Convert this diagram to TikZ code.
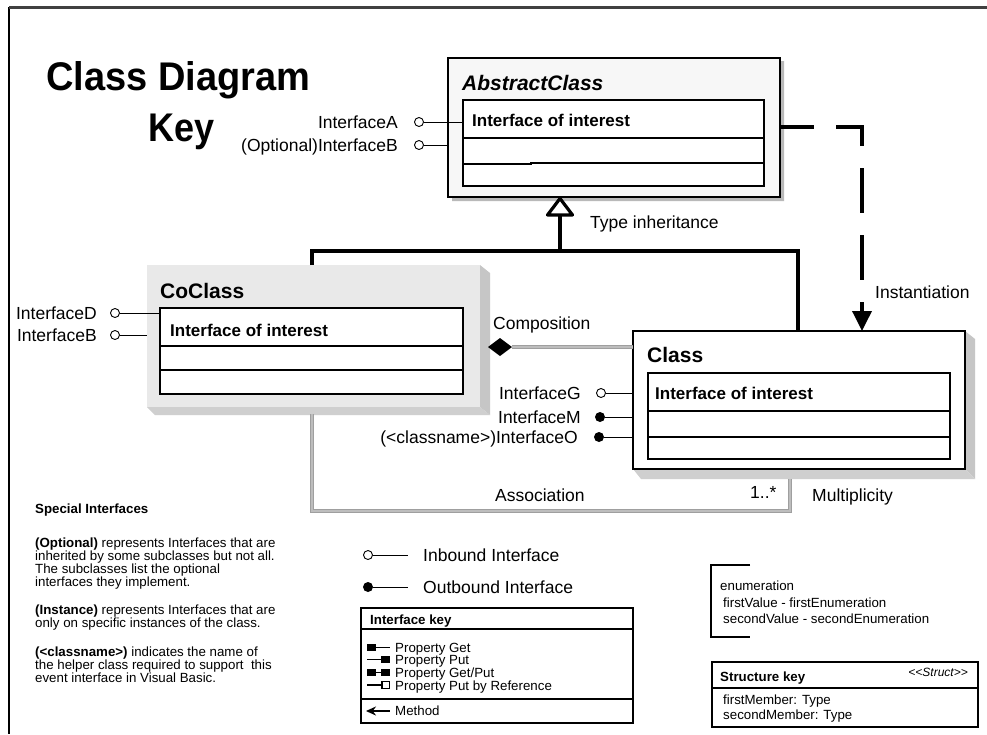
\documentclass[tikz,border=0pt]{standalone}
\usepackage{fontspec}
\setmainfont{Liberation Sans}
\usetikzlibrary{arrows.meta}
\begin{document}
\begin{tikzpicture}[x=1pt,y=-1pt,
  box/.style={draw=black, line width=1.1pt, inner sep=0pt, outer sep=0pt, anchor=north west},
  inbox/.style={box, fill=white},
  rowline/.style={line width=1.1pt},
  lbl/.style={font=\fontsize{17.5}{20}\selectfont, inner sep=0pt},
  small/.style={font=\fontsize{13.3}{13}\selectfont, inner sep=0pt, align=left},
  smallb/.style={font=\fontsize{13.3}{13}\selectfont\bfseries, inner sep=0pt},
  cname/.style={font=\fontsize{21}{24}\selectfont\bfseries, inner sep=0pt, anchor=base west},
  ioi/.style={font=\fontsize{17}{20}\selectfont\bfseries, inner sep=0pt, anchor=base west},
  heavy/.style={line width=3.6pt, black},
  gline/.style={draw=gray!75, line width=0.9pt, double=gray!52, double distance=2pt},
  stemline/.style={line width=1pt},
  ocirc/.style={circle, draw, line width=0.9pt, fill=white, minimum size=9pt, inner sep=0pt},
  fcirc/.style={circle, fill=black, minimum size=10pt, inner sep=0pt},
  inst/.style={line width=3.6pt, dash pattern=on 45pt off 22pt, dash phase=11pt,
    -{Triangle[length=20pt,width=19pt]}},
]
\useasboundingbox (0,0) rectangle (987,734);
\fill[white] (0,0) rectangle (987,734);

% frame
\draw[line width=1.6pt] (9,7) -- (9,734);
\draw[line width=3pt, black!75] (9,7) -- (987,7);

% title
\node[anchor=base west, inner sep=0pt, font=\fontsize{40}{44}\selectfont\bfseries] (ttl) at (46,90) {\scalebox{0.95}[1]{Class Diagram}};
\node[anchor=base west, inner sep=0pt, font=\fontsize{40}{44}\selectfont\bfseries] (key) at (148,141) {\scalebox{0.9}[1]{Key}};

% ---------- AbstractClass ----------
\fill[gray!55] (780,61) -- (784,61) -- (784,201) -- (452,201) -- (452,197) -- (780,197) -- cycle;
\node[box, fill=gray!6, minimum width=332pt, minimum height=139pt] (abs) at (448,58) {};
\node[cname, font=\fontsize{21}{24}\selectfont\bfseries\itshape] (absname) at (462,90) {AbstractClass};
\node[inbox, minimum width=301pt, minimum height=86pt] (absin) at (463,100) {};
\draw[rowline] (absin.west |- 0,138) -- (absin.east |- 0,138);
\draw[rowline] (absin.west |- 0,164) -- (531,164) -- (531,163) -- (absin.east |- 0,163);
\node[ioi] (absioi) at (472,126) {Interface of interest};

\node[ocirc] (ia) at (419,122) {};
\draw[stemline] (ia) -- (ia -| absin.west);
\node[lbl, anchor=base east] (ialbl) at (398,128) {InterfaceA};
\node[ocirc] (ib) at (419,145) {};
\draw[stemline] (ib) -- (ib -| abs.west);
\node[lbl, anchor=base east] (iblbl) at (398,151) {(Optional)InterfaceB};

% ---------- CoClass ----------
\fill[gray!45] (480,265) -- (490,273) -- (490,415) -- (480,407) -- cycle;
\fill[gray!38] (147,407) -- (480,407) -- (490,415) -- (155,415) -- cycle;
\node[anchor=north west, fill=gray!17, inner sep=0pt, minimum width=333pt, minimum height=142pt] (co) at (147,265) {};
\node[cname] (coname) at (160,298) {CoClass};
\node[inbox, minimum width=303pt, minimum height=86pt] (coin) at (160,308) {};
\draw[rowline] (coin.west |- 0,346) -- (coin.east |- 0,346);
\draw[rowline] (coin.west |- 0,370) -- (coin.east |- 0,370);
\node[ioi] (coioi) at (170,336) {Interface of interest};

\node[ocirc] (id) at (115,313) {};
\draw[stemline] (id) -- (id -| coin.west);
\node[lbl, anchor=base east] (idlbl) at (97,319) {InterfaceD};
\node[ocirc] (ib2) at (115,335) {};
\draw[stemline] (ib2) -- (ib2 -| co.west);
\node[lbl, anchor=base east] (ib2lbl) at (97,341) {InterfaceB};

% ---------- Class ----------
\fill[gray!45] (965,331) -- (975,339) -- (975,479) -- (965,469) -- cycle;
\fill[gray!38] (633,469) -- (965,469) -- (975,479) -- (641,479) -- cycle;
\node[box, fill=white, minimum width=332pt, minimum height=138pt] (cls) at (633,331) {};
\node[cname] (clsname) at (647,362) {Class};
\node[inbox, minimum width=302pt, minimum height=86pt] (clsin) at (648,373) {};
\draw[rowline] (clsin.west |- 0,411) -- (clsin.east |- 0,411);
\draw[rowline] (clsin.west |- 0,437) -- (clsin.east |- 0,437);
\node[ioi] (clsioi) at (655,399) {Interface of interest};

\node[ocirc] (ig) at (601,393) {};
\draw[stemline] (ig) -- (ig -| cls.west);
\node[lbl, anchor=base east] (iglbl) at (581,399) {InterfaceG};
\node[fcirc] (im) at (600,417) {};
\draw[stemline] (im) -- (im -| cls.west);
\node[lbl, anchor=base east] (imlbl) at (581,423) {InterfaceM};
\node[fcirc] (io) at (599,437) {};
\draw[stemline] (io) -- (io -| cls.west);
\node[lbl, anchor=base east] (iolbl) at (578,443) {(<classname>)InterfaceO};

% ---------- Type inheritance ----------
\coordinate (jn) at (560,251);
\coordinate (tribase) at (560,215);
\coordinate (triL) at (547.5,215);
\coordinate (triR) at (572.5,215);
\coordinate (tritop) at (560,198.5);
\draw[heavy, line join=miter] (co.north -| 312,0) |- (jn) -| (cls.north -| 798,0);
\draw[heavy] (jn) -- (tribase);
\draw[line width=3.2pt, fill=white, line join=round] (triL) -- (tritop) -- (triR) -- cycle;
\node[lbl, anchor=base west] (tilbl) at (590,228) {Type inheritance};

% ---------- Instantiation ----------
\draw[inst] (abs.east |- 0,127) -| (cls.north -| 862,0);
\node[lbl, anchor=base west] (instlbl) at (875,298) {Instantiation};

% ---------- Composition ----------
\coordinate (diaL) at (488,347);
\coordinate (diaR) at (512,347);
\draw[gline] (cls.west |- diaR) -- (diaR);
\fill[black] (diaL) -- (500,338) -- (diaR) -- (500,356) -- cycle;
\node[lbl, anchor=base west] (complbl) at (493,329) {Composition};

% ---------- Association ----------
\coordinate (asA) at (312,414);
\coordinate (asB) at (790,479);
\draw[gline] (asA) -- (312,511) -| (asB);
\node[lbl, anchor=base west] (aslbl) at (495,501) {Association};
\node[lbl, anchor=base west] (multn) at (750,498) {1..*};
\node[lbl, anchor=base west] (multlbl) at (812,501) {Multiplicity};

% ---------- Special interfaces notes ----------
\node[smallb, anchor=base west] (sptitle) at (35,513) {Special Interfaces};
\node[small, anchor=north west] (sp1) at (35,537.5) {\textbf{(Optional)} represents Interfaces that are\\inherited by some subclasses but not all.\\The subclasses list the optional\\interfaces they implement.};
\node[small, anchor=north west] (sp2) at (35,604.5) {\textbf{(Instance)} represents Interfaces that are\\only on specific instances of the class.};
\node[small, anchor=north west] (sp3) at (35,646.5) {\textbf{(<classname>)} indicates the name of\\the helper class required to support~ this\\event interface in Visual Basic.};

% ---------- Inbound / outbound legend ----------
\node[ocirc] (lin) at (368,555) {};
\coordinate (linE) at (408,555);
\draw[stemline] (lin) -- (linE);
\node[lbl, anchor=base west] (linlbl) at (423,561) {Inbound Interface};
\node[fcirc] (lout) at (368,587) {};
\coordinate (loutE) at (408,587);
\draw[stemline] (lout) -- (loutE);
\node[lbl, anchor=base west] (loutlbl) at (423,593) {Outbound Interface};

% ---------- Interface key ----------
\node[box, minimum width=272pt, minimum height=115pt] (ikey) at (361,608) {};
\draw[rowline] (ikey.west |- 0,629) -- (ikey.east |- 0,629);
\draw[rowline] (ikey.west |- 0,699) -- (ikey.east |- 0,699);
\node[smallb, anchor=base west] (ikeyt) at (370,624) {Interface key};
% property get
\fill (367,644) rectangle (376,651);
\draw[line width=1.3pt] (376,647.5) -- (390,647.5);
\node[small, anchor=base west] (pg) at (395,652) {Property Get};
% property put
\draw[line width=1.3pt] (367,659.5) -- (382,659.5);
\fill (381,656) rectangle (390,663);
\node[small, anchor=base west] (pp) at (395,664) {Property Put};
% property get/put
\fill (367,669) rectangle (376,676);
\draw[line width=1.3pt] (376,672.5) -- (382,672.5);
\fill (381,669) rectangle (390,676);
\node[small, anchor=base west] (pgp) at (395,677) {Property Get/Put};
% property put by reference
\draw[line width=1.3pt] (367,685) -- (382,685);
\draw[line width=1.2pt, fill=white] (382,681.5) rectangle (389.5,688.5);
\node[small, anchor=base west] (ppr) at (395,690) {Property Put by Reference};
% method
\coordinate (mA) at (366,711);
\coordinate (mB) at (390,711);
\draw[line width=1.5pt, {Stealth[length=10pt,width=9pt]}-] (mA) -- (mB);
\node[small, anchor=base west] (meth) at (395,715) {Method};

% ---------- Enumeration ----------
\draw[line width=1.3pt] (750,565) -- (711,565) -- (711,637) -- (750,637);
\node[small, anchor=base west] (en0) at (720,590) {enumeration};
\node[small, anchor=base west] (en1) at (723,607) {firstValue - firstEnumeration};
\node[small, anchor=base west] (en2) at (723,623) {secondValue - secondEnumeration};

% ---------- Structure key ----------
\node[box, minimum width=266pt, minimum height=65pt] (skey) at (712,662) {};
\draw[rowline] (skey.west |- 0,688) -- (skey.east |- 0,688);
\node[smallb, anchor=base west] (skeyt) at (720,681) {Structure key};
\node[small, anchor=base east, font=\fontsize{12}{12}\selectfont\itshape] (stct) at (968,676) {<{}<Struct>{}>};
\node[small, anchor=base west] (sm1) at (723,704.5) {firstMember: Type};
\node[small, anchor=base west] (sm2) at (723,719.5) {secondMember: Type};

\end{tikzpicture}
\end{document}
